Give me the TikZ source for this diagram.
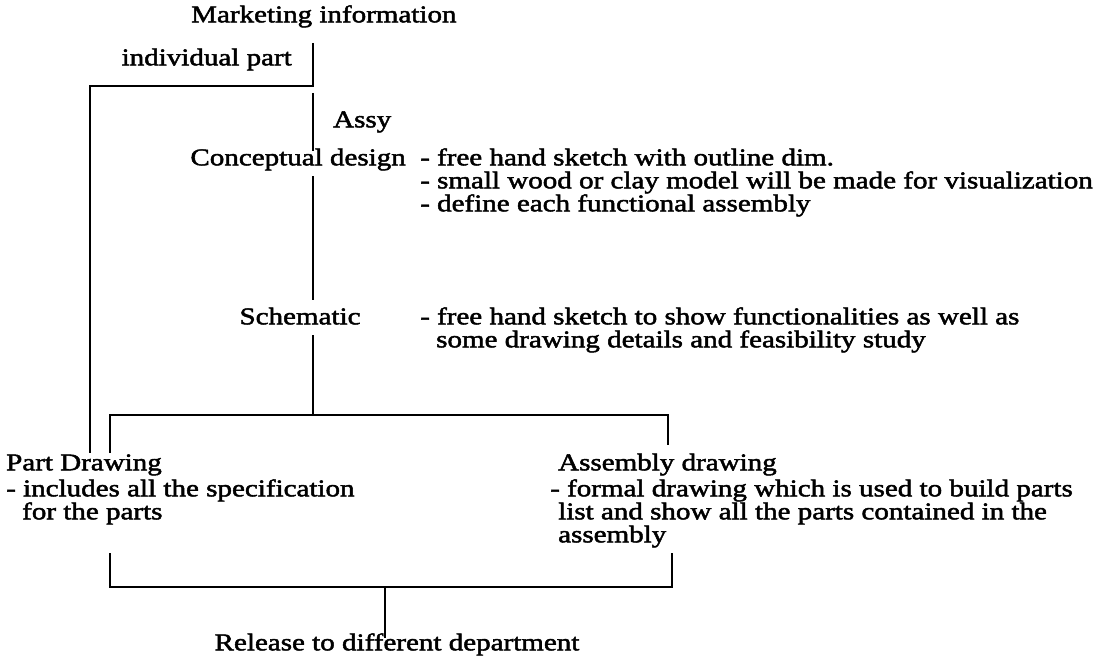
\documentclass[tikz,border=0pt]{standalone}
\usepackage{fontspec}
\setmainfont{Liberation Serif}[FakeStretch=1.21,FakeBold=2]
\begin{document}
\begin{tikzpicture}[x=1pt,y=-1pt,
  txt/.style={inner sep=0pt, text height=15pt, text depth=5pt, font=\fontsize{24}{23}\selectfont},
  ln/.style={line width=2pt, line cap=butt}]
\useasboundingbox (0,0) rectangle (1110,658);
% texts
\node[txt,anchor=mid west] (mkt)  at (191,20)  {Marketing information};
\node[txt,anchor=mid east] (ind)  at (292,63)  {individual part};
\node[txt,anchor=mid west] (assy) at (333,125) {Assy};
\node[txt,anchor=mid east] (cd)   at (406,163) {Conceptual design};
\node[txt,anchor=mid west] (cdb1) at (420,163) {- free hand sketch with outline dim.};
\node[txt,anchor=mid west] (cdb2) at (420,186) {- small wood or clay model will be made for visualization};
\node[txt,anchor=mid west] (cdb3) at (420,209) {- define each functional assembly};
\node[txt,anchor=mid]      (sch)  at (300,322) {Schematic};
\node[txt,anchor=mid west] (sb1)  at (420,322) {- free hand sketch to show functionalities as well as};
\node[txt,anchor=mid west] (sb2)  at (436,345) {some drawing details and feasibility study};
\node[txt,anchor=mid west] (pd)   at (6,468)   {Part Drawing};
\node[txt,anchor=mid west] (pdb1) at (6,494)   {- includes all the specification};
\node[txt,anchor=mid west] (pdb2) at (22,517)  {for the parts};
\node[txt,anchor=mid west] (ad)   at (558,468) {Assembly drawing};
\node[txt,anchor=mid west] (adb1) at (550,494) {- formal drawing which is used to build parts};
\node[txt,anchor=mid west] (adb2) at (558,517) {list and show all the parts contained in the};
\node[txt,anchor=mid west] (adb3) at (558,540) {assembly};
\node[txt,anchor=mid]      (rel)  at (397,648) {Release to different department};
% line points
\coordinate (m0) at (313,43);
\coordinate (c1) at (313,86);
\coordinate (l1) at (90,86);
\coordinate (l2) at (90,453);
\coordinate (m1) at (313,93);
\coordinate (m2) at (313,151);
\coordinate (m3) at (313,176);
\coordinate (m4) at (313,300);
\coordinate (m5) at (313,335);
\coordinate (m6) at (313,415);
\coordinate (b1) at (110,453);
\coordinate (b2) at (110,415);
\coordinate (b3) at (668,415);
\coordinate (b4) at (668,445);
\coordinate (d1) at (110,553);
\coordinate (d2) at (110,587);
\coordinate (d3) at (672,587);
\coordinate (d4) at (672,553);
\coordinate (r1) at (385,587);
\coordinate (r2) at (385,638);
% connectors
\draw[ln] (m0) -- (c1) -- (l1) -- (l2);
\draw[ln] (m1) -- (m2);
\draw[ln] (m3) -- (m4);
\draw[ln] (m5) -- (m6);
\draw[ln] (b1) -- (b2) -- (b3) -- (b4);
\draw[ln] (d1) -- (d2) -- (d3) -- (d4);
\draw[ln] (r1) -- (r2);
\end{tikzpicture}
\end{document}
